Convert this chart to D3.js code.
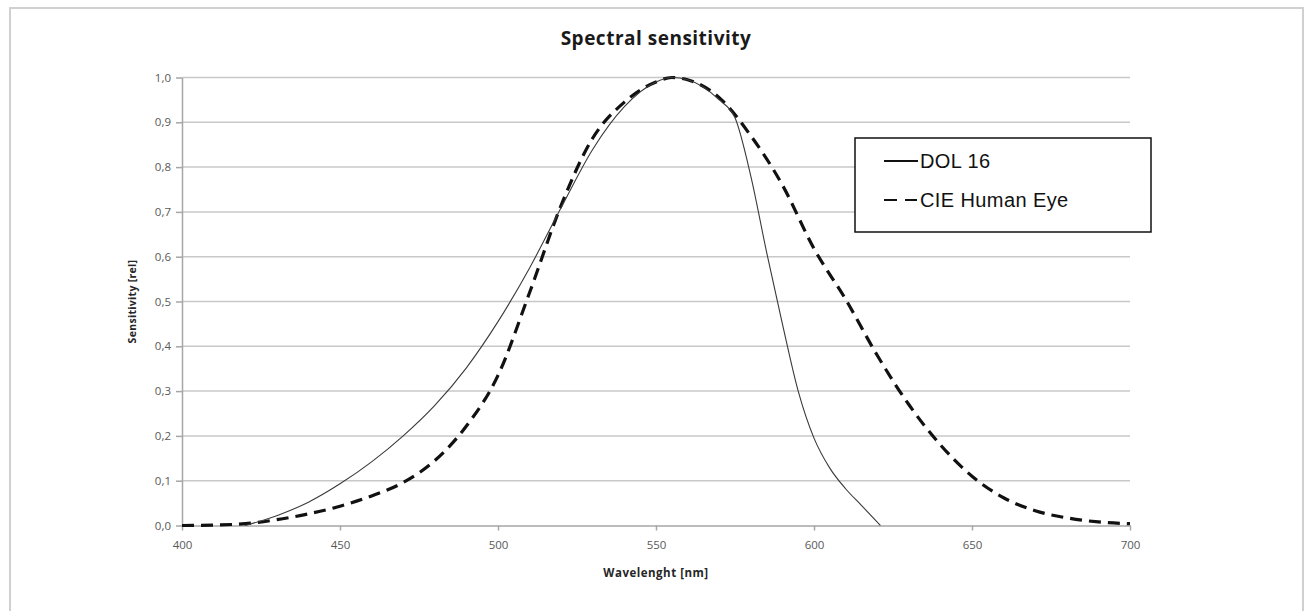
<!DOCTYPE html>
<html>
<head>
<meta charset="utf-8">
<script src="https://cdnjs.cloudflare.com/ajax/libs/d3/7.8.5/d3.min.js"></script>
<style>
  body { margin: 0; background: #fff; }
  .grid line { stroke: #c8c8c8; stroke-width: 1.5px; }
  .axis path, .axis line { stroke: #a6a6a6; stroke-width: 1.5px; }
  .axis text { fill: #595959; font-family: "Open Sans", sans-serif; font-size: 11.5px; }
</style>
</head>
<body>
<svg id="graph" width="1304" height="611"></svg>
<script>

// wavelength [nm] / relative sensitivity
var dolWave = [420, 430, 440, 450, 460, 470, 480, 490, 500, 510, 520, 530, 540, 550, 555, 560, 570, 575, 580, 585, 590, 595, 600, 605, 610, 615, 621];
var dolSens = [0, 0.022, 0.052, 0.093, 0.142, 0.2, 0.268, 0.352, 0.455, 0.575, 0.71, 0.84, 0.935, 0.99, 1.0, 0.995, 0.95, 0.91, 0.78, 0.61, 0.45, 0.3, 0.195, 0.128, 0.082, 0.045, 0];

var cieWave = [400, 410, 420, 430, 440, 450, 460, 470, 480, 490, 500, 510, 520, 530, 540, 550, 555, 560, 570, 580, 590, 600, 610, 620, 630, 640, 650, 660, 670, 680, 690, 700];
var cieSens = [0, 0.001, 0.004, 0.013, 0.026, 0.043, 0.066, 0.096, 0.145, 0.222, 0.335, 0.52, 0.715, 0.865, 0.945, 0.99, 1.0, 0.995, 0.955, 0.87, 0.76, 0.618, 0.505, 0.38, 0.27, 0.18, 0.11, 0.062, 0.033, 0.017, 0.008, 0.004];

var xTicks = [400, 450, 500, 550, 600, 650, 700];
var yTicks = [0, 0.1, 0.2, 0.3, 0.4, 0.5, 0.6, 0.7, 0.8, 0.9, 1.0];

var seriesNames = ["DOL 16", "CIE Human Eye"];

var svg = d3.select("#graph"),
    margin = {top: 77.5, right: 174, bottom: 85.5, left: 182},
    width = +svg.attr("width") - margin.left - margin.right,
    height = +svg.attr("height") - margin.top - margin.bottom;

// outer frame
svg.append("rect")
    .attr("x", 10)
    .attr("y", 8)
    .attr("width", 1293)
    .attr("height", 640)
    .attr("fill", "none")
    .attr("stroke", "#d0d0d0")
    .attr("stroke-width", 2);

var x = d3.scaleLinear().domain([400, 700]).range([0, width]),
    y = d3.scaleLinear().domain([0, 1]).range([height, 0]);

var g = svg.append("g")
    .attr("transform", "translate(" + margin.left + "," + margin.top + ")");

// horizontal gridlines
g.append("g")
    .attr("class", "grid")
  .selectAll("line")
  .data(yTicks.slice(1))
  .enter().append("line")
    .attr("x1", 0)
    .attr("x2", width)
    .attr("y1", function(d) { return y(d); })
    .attr("y2", function(d) { return y(d); });

var fmt = function(d) { return d3.format(".1f")(d).replace(".", ","); };

g.append("g")
    .attr("class", "axis axis--x")
    .attr("transform", "translate(0," + height + ")")
    .call(d3.axisBottom(x).tickValues(xTicks).tickSize(5).tickPadding(8).tickSizeOuter(0))
  .selectAll("text")
    .attr("dy", "0.9em");

g.append("g")
    .attr("class", "axis axis--y")
    .call(d3.axisLeft(y).tickValues(yTicks).tickFormat(fmt).tickSize(6).tickPadding(5).tickSizeOuter(0));

// axis titles
svg.append("text")
    .attr("x", margin.left + width / 2)
    .attr("y", 577)
    .attr("text-anchor", "middle")
    .style("font-family", "Open Sans, sans-serif")
    .style("font-weight", 700)
    .style("font-size", "11.5px")
    .style("letter-spacing", "0.5px")
    .style("fill", "#262626")
    .text("Wavelenght [nm]");

svg.append("text")
    .attr("transform", "translate(136," + (margin.top + height / 2) + ") rotate(-90)")
    .attr("text-anchor", "middle")
    .style("font-family", "Open Sans, sans-serif")
    .style("font-weight", 700)
    .style("font-size", "10.5px")
    .style("letter-spacing", "0.3px")
    .style("fill", "#262626")
    .text("Sensitivity [rel]");

// title
svg.append("text")
    .attr("x", margin.left + width / 2)
    .attr("y", 45)
    .attr("text-anchor", "middle")
    .style("font-family", "Open Sans, sans-serif")
    .style("font-weight", 700)
    .style("font-size", "19px")
    .style("letter-spacing", "0.5px")
    .style("fill", "#1a1a1a")
    .text("Spectral sensitivity");

var line = d3.line()
    .x(function(d) { return x(d[0]); })
    .y(function(d) { return y(d[1]); })
    .curve(d3.curveMonotoneX);

var cieData = cieWave.map(function(w, i) { return [w, cieSens[i]]; });
var dolData = dolWave.map(function(w, i) { return [w, dolSens[i]]; });

g.append("path")
    .datum(cieData)
    .attr("fill", "none")
    .attr("stroke", "#111")
    .attr("stroke-width", 3.2)
    .attr("stroke-dasharray", "12,7")
    .attr("d", line);

g.append("path")
    .datum(dolData)
    .attr("fill", "none")
    .attr("stroke", "#3a3a3a")
    .attr("stroke-width", 1.1)
    .attr("d", line);

// legend
var legend = svg.append("g")
    .attr("transform", "translate(855,138)");

legend.append("rect")
    .attr("width", 296)
    .attr("height", 94)
    .attr("fill", "#fff")
    .attr("stroke", "#111")
    .attr("stroke-width", 1.5);

var legendItem = legend.selectAll(".legendItem")
    .data(seriesNames)
  .enter().append("g")
    .attr("class", "legendItem")
    .attr("transform", function(d, i) { return "translate(0," + (23 + i * 39) + ")"; });

legendItem.append("line")
    .attr("x1", 29)
    .attr("x2", function(d, i) { return i ? 62 : 63; })
    .attr("stroke", "#111")
    .attr("stroke-width", function(d, i) { return i ? 2.2 : 1.8; })
    .attr("stroke-dasharray", function(d, i) { return i ? "13,8" : null; });

legendItem.append("text")
    .attr("x", 65)
    .attr("dy", "0.36em")
    .style("font-family", "Liberation Sans, Arial, sans-serif")
    .style("font-size", "20px")
    .style("letter-spacing", "0.4px")
    .style("fill", "#111")
    .text(function(d) { return d; });

</script>
</body>
</html>
